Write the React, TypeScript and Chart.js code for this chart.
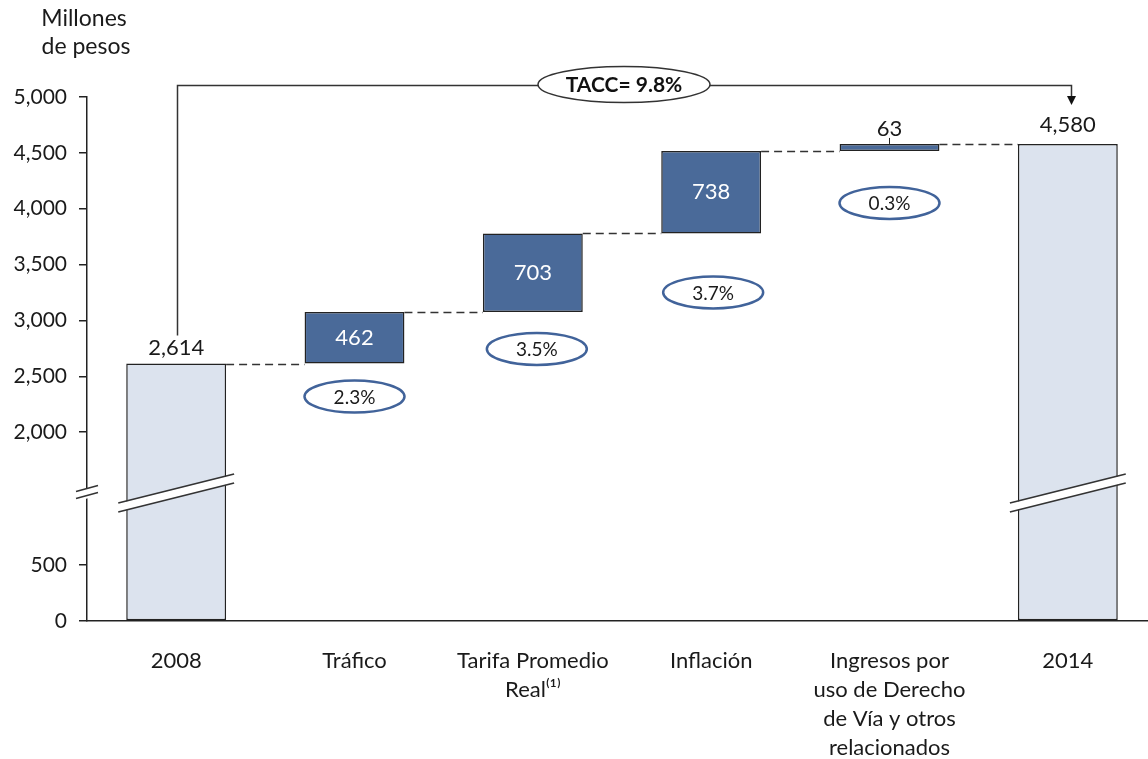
import React, { useEffect, useRef } from "react";
import { Chart, registerables } from "chart.js";

Chart.register(...registerables);

// ---------- data ----------
const categories: string[][] = [
  ["2008"],
  ["Tráfico"],
  ["Tarifa Promedio", "Real⁽¹⁾"],
  ["Inflación"],
  ["Ingresos por", "uso de Derecho", "de Vía y otros", "relacionados"],
  ["2014"],
];
const startValue = 2614;
const changes = [462, 703, 738, 63];
const endValue = 4580;
const growthLabels = ["2.3%", "3.5%", "3.7%", "0.3%"];
const cagrLabel = "TACC= 9.8%";
const yTickValues = [0, 500, 2000, 2500, 3000, 3500, 4000, 4500, 5000];
const yTitle = ["Millones", "de pesos"];

// ---------- axis break mapping ----------
const BREAK_FROM = 1500; // values at or above are shifted down
const BREAK_SHIFT = 310;
const disp = (v: number) => (v >= BREAK_FROM ? v - BREAK_SHIFT : v);
const BREAK_MARK_DISPLAY = 1145;

// ---------- styles ----------
const FONT = "Lato, 'Open Sans', sans-serif";
const TEXT = "#1a1a1a";
const LINE = "#222222";
const LIGHT = "#dce3ee";
const DARK = "#4a6a99";
const ELLIPSE_BLUE = "#41639a";
const pctOffsets = [33, 37, 59, 52]; // px below bar bottom for % ellipses
const pctDx = [0, 4, 2, 0];

const fmt = (v: number) => v.toLocaleString("en-US");

function buildBars() {
  const bars: [number, number][] = [];
  bars.push([0, disp(startValue)]);
  let level = startValue;
  for (const c of changes) {
    bars.push([disp(level), disp(level + c)]);
    level += c;
  }
  bars.push([0, disp(endValue)]);
  return bars;
}

const overlayPlugin = {
  id: "overlay",
  afterDatasetsDraw(chart: any) {
    const ctx: CanvasRenderingContext2D = chart.ctx;
    const xs = chart.scales.x;
    const ys = chart.scales.y;
    const meta = chart.getDatasetMeta(0);
    const els = meta.data as any[];
    ctx.save();

    // connectors
    const levels: number[] = [startValue];
    let lv = startValue;
    for (const c of changes) {
      lv += c;
      levels.push(lv);
    }
    ctx.strokeStyle = "#333";
    ctx.lineWidth = 1.5;
    ctx.setLineDash([8, 5]);
    for (let i = 0; i < els.length - 1; i++) {
      const a = els[i];
      const b = els[i + 1];
      const y = Math.round(ys.getPixelForValue(disp(levels[i]))) + 0.5;
      ctx.beginPath();
      ctx.moveTo(a.x + a.width / 2, y);
      ctx.lineTo(b.x - b.width / 2, y);
      ctx.stroke();
    }
    ctx.setLineDash([]);

    // break marks on total bars
    const cyBar = ys.getPixelForValue(BREAK_MARK_DISPLAY);
    for (const idx of [0, els.length - 1]) {
      const e = els[idx];
      const L = e.x - e.width / 2 - 8;
      const R = e.x + e.width / 2 + 8;
      const rise = 29;
      ctx.strokeStyle = "#ffffff";
      ctx.lineWidth = 8;
      ctx.beginPath();
      ctx.moveTo(L, cyBar + rise / 2);
      ctx.lineTo(R, cyBar - rise / 2);
      ctx.stroke();
      ctx.strokeStyle = "#333";
      ctx.lineWidth = 1.6;
      for (const off of [-4.5, 4.5]) {
        ctx.beginPath();
        ctx.moveTo(L, cyBar + rise / 2 + off);
        ctx.lineTo(R, cyBar - rise / 2 + off);
        ctx.stroke();
      }
    }

    // break on y axis
    const ax = xs.left;
    const cyAx = cyBar - 1;
    ctx.fillStyle = "#ffffff";
    ctx.beginPath();
    ctx.moveTo(ax - 11, cyAx - 0.5 + 3);
    ctx.lineTo(ax + 11, cyAx - 0.5 - 3);
    ctx.lineTo(ax + 11, cyAx + 6.5 - 3);
    ctx.lineTo(ax - 11, cyAx + 6.5 + 3);
    ctx.closePath();
    ctx.fill();
    ctx.fillRect(ax - 3, cyAx - 3.5, 6, 7);
    ctx.strokeStyle = "#333";
    ctx.lineWidth = 1.5;
    for (const off of [-3.5, 3.5]) {
      ctx.beginPath();
      ctx.moveTo(ax - 11, cyAx + 3 + off);
      ctx.lineTo(ax + 11, cyAx - 3 + off);
      ctx.stroke();
    }

    // value labels
    ctx.textAlign = "center";
    ctx.textBaseline = "middle";
    ctx.font = `22px ${FONT}`;
    ctx.fillStyle = TEXT;
    const first = els[0];
    ctx.fillText(fmt(startValue), first.x, first.y - 16);
    const last = els[els.length - 1];
    ctx.fillText(fmt(endValue), last.x, last.y - 19);
    for (let i = 0; i < changes.length; i++) {
      const e = els[i + 1];
      const top = Math.min(e.y, e.base);
      const bottom = Math.max(e.y, e.base);
      if (bottom - top > 30) {
        ctx.fillStyle = "#ffffff";
        ctx.fillText(fmt(changes[i]), e.x, (top + bottom) / 2);
      } else {
        ctx.fillStyle = TEXT;
        ctx.fillText(fmt(changes[i]), e.x, top - 15);
        ctx.strokeStyle = LINE;
        ctx.lineWidth = 1;
        ctx.beginPath();
        ctx.moveTo(e.x, top);
        ctx.lineTo(e.x, top - 6);
        ctx.stroke();
      }
    }

    // percentage ellipses
    ctx.font = `19px ${FONT}`;
    for (let i = 0; i < growthLabels.length; i++) {
      const e = els[i + 1];
      const bottom = Math.max(e.y, e.base);
      const cy = bottom + pctOffsets[i];
      const cx = e.x + pctDx[i];
      ctx.beginPath();
      ctx.ellipse(cx, cy, 50, 16, 0, 0, Math.PI * 2);
      ctx.fillStyle = "#ffffff";
      ctx.fill();
      ctx.strokeStyle = ELLIPSE_BLUE;
      ctx.lineWidth = 2.5;
      ctx.stroke();
      ctx.fillStyle = TEXT;
      ctx.fillText(growthLabels[i], cx, cy + 1);
    }

    // TACC bracket
    const lineY = 85.5;
    const x1 = Math.round(first.x) + 1.5;
    const x2 = Math.round(last.x) + 3.5;
    ctx.strokeStyle = "#333";
    ctx.lineWidth = 1.5;
    ctx.beginPath();
    ctx.moveTo(x1, first.y - 28);
    ctx.lineTo(x1, lineY);
    ctx.lineTo(x2, lineY);
    ctx.lineTo(x2, 97);
    ctx.stroke();
    ctx.fillStyle = "#111";
    ctx.beginPath();
    ctx.moveTo(x2 - 4.5, 96);
    ctx.lineTo(x2 + 4.5, 96);
    ctx.lineTo(x2, 105);
    ctx.closePath();
    ctx.fill();

    const ecx = 624;
    ctx.beginPath();
    ctx.ellipse(ecx, lineY - 1, 86, 18, 0, 0, Math.PI * 2);
    ctx.fillStyle = "#ffffff";
    ctx.fill();
    ctx.strokeStyle = "#333";
    ctx.lineWidth = 1.5;
    ctx.stroke();
    ctx.fillStyle = "#111";
    ctx.font = `bold 21px ${FONT}`;
    ctx.fillText(cagrLabel, ecx, lineY);

    // axis title
    ctx.font = `23px ${FONT}`;
    ctx.fillStyle = TEXT;
    ctx.fillText(yTitle[0], 84, 19);
    ctx.fillText(yTitle[1], 86, 47);

    ctx.restore();
  },
};

export default function App() {
  const ref = useRef<HTMLCanvasElement>(null);

  useEffect(() => {
    if (!ref.current) return;
    const bars = buildBars();
    const colors = bars.map((_, i) => (i === 0 || i === bars.length - 1 ? LIGHT : DARK));
    const tickLabelMap = new Map<number, string>();
    yTickValues.forEach((v) => tickLabelMap.set(disp(v), fmt(v)));

    const chart = new Chart(ref.current, {
      type: "bar",
      data: {
        labels: categories,
        datasets: [
          {
            data: bars as any,
            backgroundColor: colors,
            borderColor: LINE,
            borderWidth: 1.5,
            borderSkipped: false,
            barPercentage: 0.56,
            categoryPercentage: 1,
          },
        ],
      },
      options: {
        animation: false,
        responsive: false,
        maintainAspectRatio: false,
        layout: { padding: { top: 97, left: 0, right: 0, bottom: 0 } },
        plugins: {
          legend: { display: false },
          tooltip: { enabled: false },
          title: { display: false },
        },
        scales: {
          x: {
            grid: { display: false, drawTicks: false },
            border: { display: true, color: LINE, width: 1.5 },
            ticks: {
              color: TEXT,
              font: { family: FONT, size: 22, lineHeight: 1.32 },
              padding: 25,
              maxRotation: 0,
              autoSkip: false,
            },
            afterFit: (s: any) => {
              s.height = 138;
            },
          },
          y: {
            min: 0,
            max: disp(5000),
            grid: {
              display: true,
              drawOnChartArea: false,
              drawTicks: true,
              tickLength: 8,
              color: LINE,
              lineWidth: 1.5,
            },
            border: { display: true, color: LINE, width: 1.5 },
            ticks: {
              color: TEXT,
              font: { family: FONT, size: 21 },
              padding: 12,
              callback: (v: any) => tickLabelMap.get(Number(v)) ?? "",
            },
            afterBuildTicks: (s: any) => {
              s.ticks = yTickValues.map((v) => ({ value: disp(v) }));
            },
            afterFit: (s: any) => {
              s.width = 87;
            },
          },
        },
      },
      plugins: [overlayPlugin],
    });
    return () => chart.destroy();
  }, []);

  return (
    <div
      style={{
        position: "absolute",
        left: 0,
        top: 0,
        width: 1148,
        height: 759,
        overflow: "hidden",
        background: "#ffffff",
      }}
    >
      <canvas ref={ref} width={1157} height={759} style={{ width: 1157, height: 759, display: "block" }} />
    </div>
  );
}
